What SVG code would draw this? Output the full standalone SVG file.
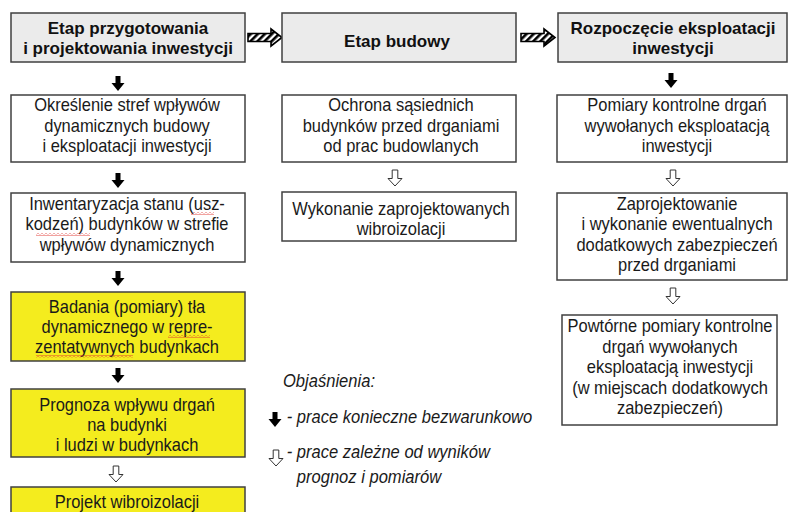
<svg xmlns="http://www.w3.org/2000/svg" width="788" height="512" viewBox="0 0 788 512">
<style>
.hdr{fill:#ebebeb;stroke:#404040;stroke-width:1.5}
.box{fill:#ffffff;stroke:#404040;stroke-width:1.5}
.yel{fill:#f4ec1e;stroke:#404040;stroke-width:1.5}
.ht{font-family:"Liberation Sans",Arial,sans-serif;font-size:17px;font-weight:bold;fill:#111;text-anchor:middle}
.bt{font-family:"Liberation Sans",Arial,sans-serif;font-size:18.5px;fill:#1a1a1a;text-anchor:middle}
.lt{font-family:"Liberation Sans",Arial,sans-serif;font-size:18px;font-style:italic;fill:#1a1a1a}
.solid{fill:#000}
.hollow{fill:#fff;stroke:#333;stroke-width:1}
.hatch{fill:url(#stripes);stroke:#000;stroke-width:1.6;stroke-linejoin:miter}
</style>
<defs>
<pattern id="stripes" patternUnits="userSpaceOnUse" width="5" height="5" patternTransform="rotate(45)">
<rect width="5" height="5" fill="#fff"/>
<rect width="2.6" height="5" fill="#000"/>
</pattern>
<pattern id="wave" patternUnits="userSpaceOnUse" width="4" height="3">
<path d="M0,0.5 L2,2.5 L4,0.5" fill="none" stroke="#e0302a" stroke-width="0.9"/>
</pattern>
<path id="sa" d="M-2.5,0 H2.5 V7 H6.5 L0,15 L-6.5,7 H-2.5 Z"/>
<path id="ha" d="M-2.8,0 H2.8 V8.5 H7 L0,16 L-7,8.5 H-2.8 Z"/>
</defs>

<g id="connectors">
<path class="hatch" d="M248,33.5 H271 V29 L282,37.5 L271,46 V41.5 H248 Z"/>
<path class="hatch" d="M521,33.5 H544 V29 L555,37.5 L544,46 V41.5 H521 Z"/>
<use href="#sa" class="solid" x="118" y="76"/>
<use href="#sa" class="solid" x="118" y="173"/>
<use href="#sa" class="solid" x="118" y="271"/>
<use href="#sa" class="solid" x="118" y="368"/>
<use href="#ha" class="hollow" x="116" y="466"/>
<use href="#ha" class="hollow" x="395" y="170"/>
<use href="#sa" class="solid" x="671" y="73"/>
<use href="#ha" class="hollow" x="673" y="170"/>
<use href="#ha" class="hollow" x="673" y="288"/>
</g>

<g id="h1">
<rect class="hdr" x="11" y="13" width="234" height="49"/>
<text class="ht" x="128" y="34">Etap przygotowania</text>
<text class="ht" x="128" y="54">i projektowania inwestycji</text>
</g>
<g id="h2">
<rect class="hdr" x="282" y="13" width="234" height="49"/>
<text class="ht" x="397" y="47">Etap budowy</text>
</g>
<g id="h3">
<rect class="hdr" x="558" y="13" width="229" height="49"/>
<text class="ht" x="673" y="34">Rozpoczęcie eksploatacji</text>
<text class="ht" x="673" y="54">inwestycji</text>
</g>

<g id="n1">
<rect class="box" x="11" y="95" width="234" height="67"/>
<g transform="translate(127 0) scale(0.89 1)">
<text class="bt" x="0" y="111">Określenie stref wpływów</text>
<text class="bt" x="0" y="132">dynamicznych budowy</text>
<text class="bt" x="0" y="152">i eksploatacji inwestycji</text>
</g>
</g>
<g id="n2">
<rect class="box" x="11" y="193" width="234" height="69"/>
<g transform="translate(127 0) scale(0.89 1)">
<text class="bt" x="0" y="210">Inwentaryzacja stanu (usz-</text>
<text class="bt" x="0" y="230.5">kodzeń) budynków w strefie</text>
<text class="bt" x="0" y="251">wpływów dynamicznych</text>
</g>
<rect x="191" y="212" width="23" height="3" fill="url(#wave)"/>
<rect x="36" y="233" width="54" height="3" fill="url(#wave)"/>
</g>
<g id="n3">
<rect class="yel" x="11" y="292" width="234" height="69"/>
<g transform="translate(127 0) scale(0.89 1)">
<text class="bt" x="0" y="313">Badania (pomiary) tła</text>
<text class="bt" x="0" y="333">dynamicznego w repre-</text>
<text class="bt" x="0" y="353">zentatywnych budynkach</text>
</g>
<rect x="168" y="335" width="42" height="3" fill="url(#wave)"/>
<rect x="36" y="355" width="97" height="3" fill="url(#wave)"/>
</g>
<g id="n4">
<rect class="yel" x="11" y="389" width="234" height="68"/>
<g transform="translate(127 0) scale(0.89 1)">
<text class="bt" x="0" y="411">Prognoza wpływu drgań</text>
<text class="bt" x="0" y="431">na budynki</text>
<text class="bt" x="0" y="451">i ludzi w budynkach</text>
</g>
</g>
<g id="n5">
<rect class="yel" x="11" y="487" width="234" height="40"/>
<g transform="translate(127 0) scale(0.89 1)">
<text class="bt" x="0" y="508">Projekt wibroizolacji</text>
</g>
</g>

<g id="m1">
<rect class="box" x="282" y="95" width="234" height="67"/>
<g transform="translate(401 0) scale(0.89 1)">
<text class="bt" x="0" y="111">Ochrona sąsiednich</text>
<text class="bt" x="0" y="132">budynków przed drganiami</text>
<text class="bt" x="0" y="152">od prac budowlanych</text>
</g>
</g>
<g id="m2">
<rect class="box" x="282" y="192" width="234" height="49"/>
<g transform="translate(401 0) scale(0.89 1)">
<text class="bt" x="0" y="215">Wykonanie zaprojektowanych</text>
<text class="bt" x="0" y="235">wibroizolacji</text>
</g>
</g>

<g id="r1">
<rect class="box" x="557" y="95" width="230" height="67"/>
<g transform="translate(677 0) scale(0.89 1)">
<text class="bt" x="0" y="111">Pomiary kontrolne drgań</text>
<text class="bt" x="0" y="132">wywołanych eksploatacją</text>
<text class="bt" x="0" y="152">inwestycji</text>
</g>
</g>
<g id="r2">
<rect class="box" x="557" y="193" width="230" height="87"/>
<g transform="translate(677 0) scale(0.89 1)">
<text class="bt" x="0" y="210">Zaprojektowanie</text>
<text class="bt" x="0" y="230.5">i wykonanie ewentualnych</text>
<text class="bt" x="0" y="251">dodatkowych zabezpieczeń</text>
<text class="bt" x="0" y="271.5">przed drganiami</text>
</g>
</g>
<g id="r3">
<rect class="box" x="562" y="315" width="215" height="110"/>
<g transform="translate(670 0) scale(0.89 1)">
<text class="bt" x="0" y="332">Powtórne pomiary kontrolne</text>
<text class="bt" x="0" y="353">drgań wywołanych</text>
<text class="bt" x="0" y="373">eksploatacją inwestycji</text>
<text class="bt" x="0" y="394">(w miejscach dodatkowych</text>
<text class="bt" x="0" y="414">zabezpieczeń)</text>
</g>
</g>

<g id="legend">
<use href="#sa" class="solid" x="275" y="412"/>
<use href="#ha" class="hollow" x="276" y="450"/>
<g transform="translate(283 0) scale(0.92 1)">
<text class="lt" x="0" y="387">Objaśnienia:</text>
<text class="lt" x="4" y="423">- prace konieczne bezwarunkowo</text>
<text class="lt" x="4" y="458">- prace zależne od wyników</text>
<text class="lt" x="15" y="483">prognoz i pomiarów</text>
</g>
</g>
</svg>
